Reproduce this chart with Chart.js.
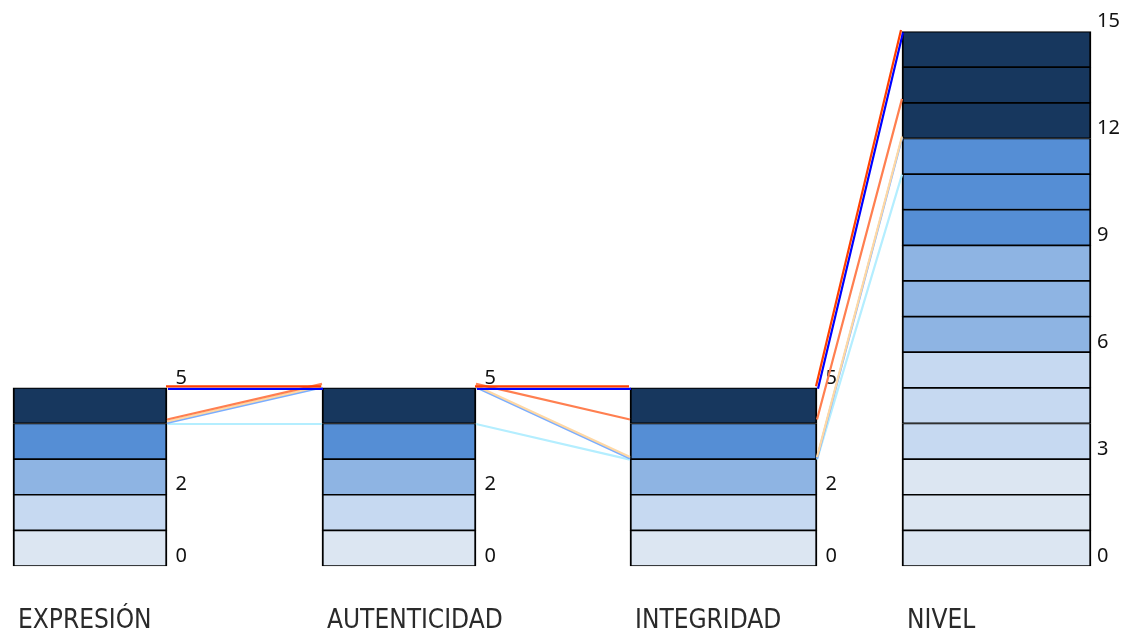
<!DOCTYPE html>
<html>
<head>
<meta charset="utf-8">
<script src="https://cdn.jsdelivr.net/npm/chart.js@4"></script>
<style>
html,body{margin:0;padding:0;background:#fff;}
canvas{display:block;}
</style>
</head>
<body>
<canvas id="c" width="1135" height="635"></canvas>
<script>
// ---- data ----
const categories = ['EXPRESIÓN', 'AUTENTICIDAD', 'INTEGRIDAD', 'NIVEL'];
const axisMax = [5, 5, 5, 15];
const ticks5 = [0, 2, 5];
const ticksNivel = [0, 3, 6, 9, 12, 15];
const serieRojo = [5, 5, 5, 15];
const serieAzul = [5, 5, 5, 15];
const serieNaranja = [4, 5, 4, 13];
const serieMelocoton = [4, 5, 3, 12];
const serieCeleste = [4, 5, 3, 12];
const serieCian = [4, 4, 3, 11];

// ---- layout / style ----
const colLeft = [13, 322, 630, 902];
const colWidth = [154, 154, 187, 189];
const xMax = 1091;
const palette = ['#DCE6F2', '#C6D9F1', '#8EB4E3', '#558ED5', '#17375E'];
const lineStyles = [
  {data: serieRojo, color: '#FF4000', dx: -1, dy: -1.5},
  {data: serieAzul, color: '#0000FF', dx: 1, dy: 1},
  {data: serieNaranja, color: '#FF7F50', dx: 0, dy: -4},
  {data: serieMelocoton, color: '#FFD8A4', dx: 0, dy: -2},
  {data: serieCeleste, color: '#7AADFF', dx: 0, dy: -0.5},
  {data: serieCian, color: '#B4EEFF', dx: 0, dy: 0.5}
];

function linePoints(vals) {
  const pts = [];
  const last = vals.length - 1;
  for (let c = 0; c <= last; c++) {
    if (c > 0) pts.push({x: colLeft[c], y: vals[c]});
    if (c > 0 && c < last) pts.push({x: colLeft[c] + colWidth[c] / 2, y: null});
    if (c < last) pts.push({x: colLeft[c] + colWidth[c], y: vals[c]});
  }
  return pts;
}

const lineSets = lineStyles.map((s, i) => ({
  type: 'line',
  label: 'serie' + i,
  data: linePoints(s.data),
  borderColor: s.color,
  borderWidth: 2.2,
  pointRadius: 0,
  fill: false,
  tension: 0,
  spanGaps: false,
  clip: false,
  shiftX: s.dx,
  shiftY: s.dy,
  order: 1
}));

const blockSets = categories.map((cat, c) => ({
  type: 'bar',
  label: cat,
  data: Array.from({length: axisMax[c]}, (_, k) => ({x: colLeft[c] + colWidth[c] / 2, y: [k, k + 1]})),
  backgroundColor: Array.from({length: axisMax[c]}, (_, k) => palette[Math.floor(k * 5 / axisMax[c])]),
  borderColor: '#000',
  borderWidth: {top: 1.2, bottom: 1.2, left: 2, right: 2},
  borderSkipped: false,
  barThickness: colWidth[c],
  grouped: false,
  clip: false,
  order: 10
}));

const shiftPlugin = {
  id: 'shift',
  beforeDatasetDraw(chart, args) {
    const ds = chart.data.datasets[args.index];
    if (ds.shiftX !== undefined) {
      chart.ctx.save();
      chart.ctx.translate(ds.shiftX, ds.shiftY);
    }
  },
  afterDatasetDraw(chart, args) {
    const ds = chart.data.datasets[args.index];
    if (ds.shiftX !== undefined) chart.ctx.restore();
  }
};

const tickFont = {family: "'Noto Sans', 'Open Sans', sans-serif", size: 20};

function sideAxis(c) {
  return {
    type: 'linear',
    position: {x: colLeft[c] + colWidth[c] + 20},
    min: 0, max: 15,
    grid: {display: false, drawTicks: false},
    border: {display: false},
    afterBuildTicks: s => { s.ticks = ticks5.map(v => ({value: v})); },
    ticks: {align: 'end', padding: 0, font: tickFont, color: '#111', autoSkip: false}
  };
}

new Chart(document.getElementById('c'), {
  type: 'bar',
  data: {datasets: [...lineSets, ...blockSets]},
  plugins: [shiftPlugin],
  options: {
    responsive: false,
    animation: false,
    layout: {padding: {top: 31.6, right: 0, bottom: 0, left: 0}},
    plugins: {legend: {display: false}, tooltip: {enabled: false}},
    scales: {
      x: {
        type: 'linear', min: 0, max: xMax, offset: false,
        grid: {display: false, drawTicks: true, tickLength: 40},
        border: {display: false},
        afterBuildTicks: s => { s.ticks = colLeft.map(l => ({value: l + 5})); },
        afterFit: s => { s.height = 69; },
        ticks: {
          autoSkip: false, maxRotation: 0, minRotation: 0, align: 'start', padding: 0,
          font: {family: "'Liberation Sans Narrow', 'DejaVu Sans Condensed', sans-serif", size: 26},
          color: '#2a2a2a',
          callback: (v, i) => categories[i]
        }
      },
      y: {
        type: 'linear', position: 'right', min: 0, max: 15,
        grid: {display: false, drawTicks: true, tickLength: 6},
        border: {display: false},
        afterBuildTicks: s => { s.ticks = ticksNivel.map(v => ({value: v})); },
        afterFit: s => { s.width = 1135 - xMax; },
        ticks: {align: 'end', padding: 0, font: tickFont, color: '#111', autoSkip: false}
      },
      y1: sideAxis(0),
      y2: sideAxis(1),
      y3: sideAxis(2)
    }
  }
});
</script>
</body>
</html>
